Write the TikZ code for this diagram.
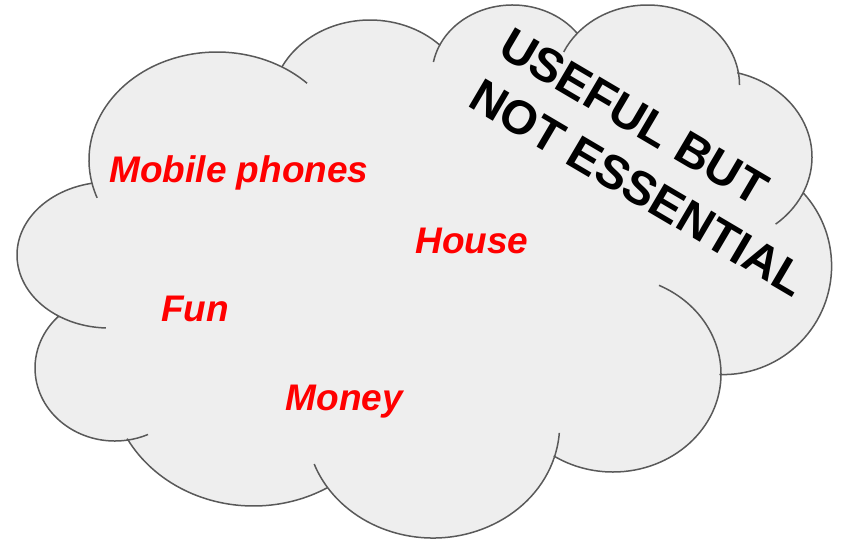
\documentclass[tikz,border=0pt]{standalone}
\usepackage{fontspec}
\setmainfont{Liberation Sans}
\usetikzlibrary{calc}
\definecolor{cloudfill}{HTML}{EEEEEE}
\definecolor{cloudline}{HTML}{595959}
\definecolor{textred}{HTML}{FF0000}
\begin{document}
\begin{tikzpicture}[x=1pt,y=1pt,
  outline/.style={draw=cloudline, line width=1.5pt, fill=cloudfill, line join=round},
  tail/.style={draw=cloudline, line width=1.5pt},
  redlabel/.style={text=textred, font=\fontsize{37}{44}\selectfont\bfseries\itshape, anchor=base, inner sep=0pt},
  blacklabel/.style={text=black, font=\fontsize{47.5}{59}\selectfont\bfseries, align=left, anchor=base west, inner sep=0pt, rotate=-30.5}]
\useasboundingbox (0,0) rectangle (842,-541);
\coordinate (c1) at (217,-160);
\coordinate (c2) at (370,-106);
\coordinate (c3) at (512.5,-75);
\coordinate (c4) at (647.5,-85);
\coordinate (c5) at (712,-157);
\coordinate (c6) at (723,-266);
\coordinate (c7) at (613,-374);
\coordinate (c8) at (433,-425);
\coordinate (c9) at (253.5,-378);
\coordinate (c10) at (115,-368);
\coordinate (c11) at (109,-255);
% cloud outline
\path[outline]
  ($(c1)+(192.3:128pt and 108pt)$) arc[start angle=192.3,end angle=59.5,x radius=128pt,y radius=108pt]
  -- ($(c2)+(153.1:98.9pt and 86pt)$) arc[start angle=153.1,end angle=45,x radius=98.9pt,y radius=86pt]
  -- ($(c3)+(154.6:80.5pt and 70pt)$) arc[start angle=154.6,end angle=36.9,x radius=80.5pt,y radius=70pt]
  -- ($(c4)+(140:92pt and 80pt)$) arc[start angle=140,end angle=9.4,x radius=92pt,y radius=80pt]
  -- ($(c5)+(75:100pt and 87pt)$) arc[start angle=75,end angle=-25.7,x radius=100pt,y radius=87pt]
  -- ($(c6)+(42.4:108.6pt and 108.6pt)$) arc[start angle=42.4,end angle=-91.6,x radius=108.6pt,y radius=108.6pt]
  -- ($(c7)+(0:108pt and 98pt)$) arc[start angle=0,end angle=-123,x radius=108pt,y radius=98pt]
  -- ($(c8)+(-16.4:126.6pt and 113pt)$) arc[start angle=-16.4,end angle=-146.7,x radius=126.6pt,y radius=113pt]
  -- ($(c9)+(-58.9:143.4pt and 128pt)$) arc[start angle=-58.9,end angle=-151.5,x radius=143.4pt,y radius=128pt]
  -- ($(c10)+(-81.4:80pt and 73pt)$) arc[start angle=-81.4,end angle=-224.4,x radius=80pt,y radius=73pt]
  -- ($(c11)+(237.4:92pt and 73pt)$) arc[start angle=237.4,end angle=101.3,x radius=92pt,y radius=73pt]
  -- cycle;
% inner tails
\draw[tail] ($(c1)+(200.5:128pt and 108pt)$) arc[start angle=200.5,end angle=192.3,x radius=128pt,y radius=108pt];
\draw[tail] ($(c1)+(59.5:128pt and 108pt)$) arc[start angle=59.5,end angle=45.3,x radius=128pt,y radius=108pt];
\draw[tail] ($(c3)+(169.3:80.5pt and 70pt)$) arc[start angle=169.3,end angle=154.6,x radius=80.5pt,y radius=70pt];
\draw[tail] ($(c4)+(155.6:92pt and 80pt)$) arc[start angle=155.6,end angle=140,x radius=92pt,y radius=80pt];
\draw[tail] ($(c4)+(9.4:92pt and 80pt)$) arc[start angle=9.4,end angle=0,x radius=92pt,y radius=80pt];
\draw[tail] ($(c5)+(-25.7:100pt and 87pt)$) arc[start angle=-25.7,end angle=-50.5,x radius=100pt,y radius=87pt];
\draw[tail] ($(c7)+(64.8:108pt and 98pt)$) arc[start angle=64.8,end angle=0,x radius=108pt,y radius=98pt];
\draw[tail] ($(c8)+(-4:126.6pt and 113pt)$) arc[start angle=-4,end angle=-16.4,x radius=126.6pt,y radius=113pt];
\draw[tail] ($(c8)+(-146.7:126.6pt and 113pt)$) arc[start angle=-146.7,end angle=-159.8,x radius=126.6pt,y radius=113pt];
\draw[tail] ($(c10)+(-65.6:80pt and 73pt)$) arc[start angle=-65.6,end angle=-81.4,x radius=80pt,y radius=73pt];
\draw[tail] ($(c11)+(268:92pt and 73pt)$) arc[start angle=268,end angle=237.4,x radius=92pt,y radius=73pt];
% labels
\node[redlabel] (mobile) at (239,-182) {Mobile phones};
\node[redlabel] (house) at (472,-253) {House};
\node[redlabel] (fun) at (195,-321) {Fun};
\node[redlabel] (money) at (344.5,-410) {Money};
\node[blacklabel] (useful) at (466,-105) {USEFUL BUT\\NOT ESSENTIAL};
\end{tikzpicture}
\end{document}
